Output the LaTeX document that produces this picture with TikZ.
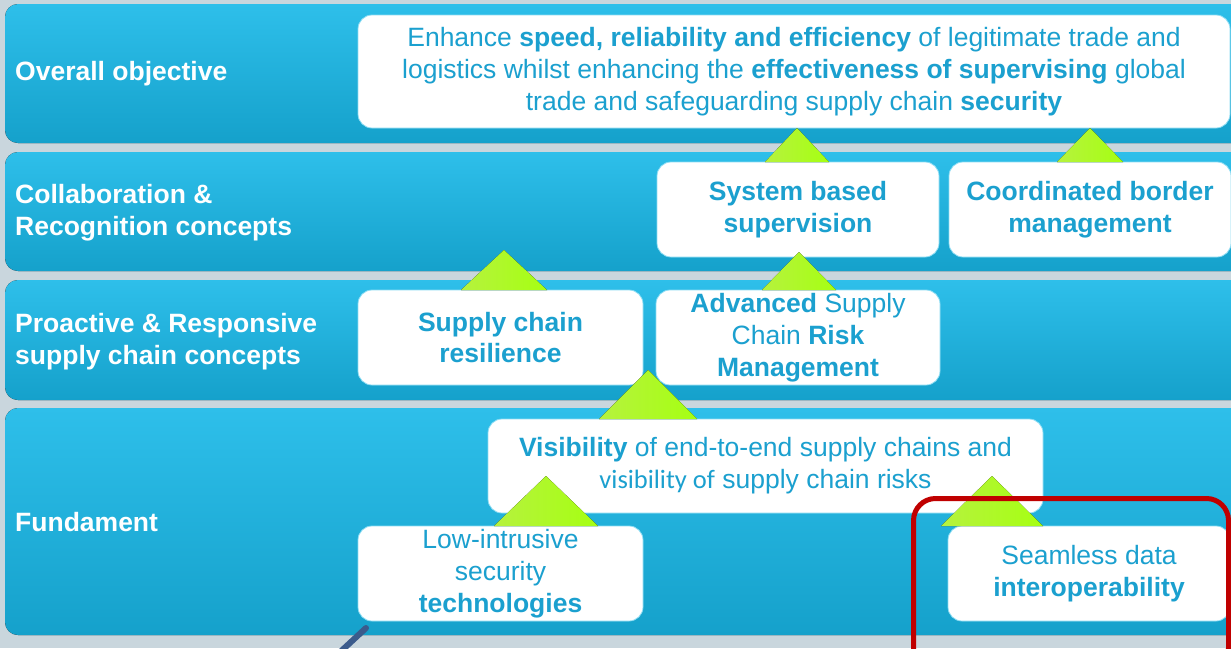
\documentclass[tikz,border=0pt]{standalone}
\usepackage{fontspec}
\setmainfont{Liberation Sans}
\newfontfamily\calfont{Carlito}
\usetikzlibrary{positioning}

\definecolor{bgray}{HTML}{C9D6DD}
\definecolor{bandtop}{HTML}{2EBFEA}
\definecolor{bandbot}{HTML}{15A1CB}
\definecolor{txtblue}{HTML}{1BA0CF}
\definecolor{trigreen}{HTML}{A6FF12}
\definecolor{trilight}{HTML}{B6F23E}
\definecolor{markred}{HTML}{C00000}
\definecolor{penblue}{HTML}{3B5B8C}

\tikzset{
  band/.style={rounded corners=13pt, top color=bandtop, bottom color=bandbot},
  wbox/.style={draw=bandtop!55, line width=0.8pt, fill=white, rounded corners=14pt,
    align=center, text=txtblue, inner sep=0pt, font=\fontsize{26.5}{31.8}\selectfont},
  bbox/.style={wbox, font=\fontsize{26.5}{31.8}\selectfont\bfseries},
  lbl/.style={anchor=west, align=left, text=white, inner sep=0pt,
    font=\fontsize{26.5}{31.8}\selectfont\bfseries},
  tri/.style={left color=trilight, right color=trigreen},
}

\begin{document}
\begin{tikzpicture}[x=1pt,y=-1pt]
  \useasboundingbox (0,0) rectangle (1231,648);
  \clip (0,0) rectangle (1231,648);
  \fill[bgray] (0,0) rectangle (1231,648);

  % layers
  \fill[band] (5,4) rectangle (1260,143);
  \fill[band] (5,152) rectangle (1260,271);
  \fill[band] (5,280) rectangle (1260,400);
  \fill[band] (5,408) rectangle (1260,635);

  \node[lbl] (lobj) at (15,74) {Overall objective};
  \node[lbl] (lcol) at (15,213) {Collaboration \&\\Recognition concepts};
  \node[lbl] (lpro) at (15,342) {Proactive \& Responsive\\supply chain concepts};
  \node[lbl] (lfun) at (15,522) {Fundament};

  % boxes
  \node[wbox, minimum width=872, minimum height=113] (obj) at (794,71.5)
    {Enhance \textbf{speed, reliability and efficiency} of legitimate trade and\\
     logistics whilst enhancing the \textbf{effectiveness of supervising} global\\
     trade and safeguarding supply chain \textbf{security}};
  \node[bbox, minimum width=282, minimum height=95] (sys) at (798,209.5)
    {System based\\supervision};
  \node[bbox, minimum width=282, minimum height=95] (cbm) at (1090,209.5)
    {Coordinated border\\management};
  \node[bbox, minimum width=285, minimum height=95] (res) at (500.5,337.5)
    {Supply chain\\resilience};
  \node[wbox, minimum width=284, minimum height=95] (adv) at (798,337.5)
    {\textbf{Advanced} Supply\\Chain \textbf{Risk}\\\textbf{Management}};
  \node[wbox, minimum width=555, minimum height=94] (vis) at (765.5,466)
    {\textbf{Visibility} of end-to-end supply chains and\\
     {\calfont visibility of} supply chain risks};
  \node[wbox, minimum width=285, minimum height=95] (low) at (500.5,573.5)
    {Low-intrusive\\security\\\textbf{technologies}};
  \node[wbox, minimum width=282, minimum height=95] (sdi) at (1089,573.5)
    {Seamless data\\\textbf{interoperability}};

  % arrows up
  \foreach \cx/\ty/\by/\hw in {797/128/162/32, 1090/128/162/33, 504/250/290/43,
      799/252/290/37, 648/370/419/49, 546/476/526/52, 992/476/526/51}
    \fill[tri] (\cx-\hw,\by) -- (\cx,\ty) -- (\cx+\hw,\by) -- cycle;

  % highlight
  \draw[markred, line width=5pt, rounded corners=22pt] (913.5,498.5) rectangle (1228.5,670);
  \coordinate (pa) at (366,628);
  \coordinate (pb) at (338,654);
  \draw[penblue, line width=6pt, line cap=round] (pa) -- (pb);
\end{tikzpicture}
\end{document}
